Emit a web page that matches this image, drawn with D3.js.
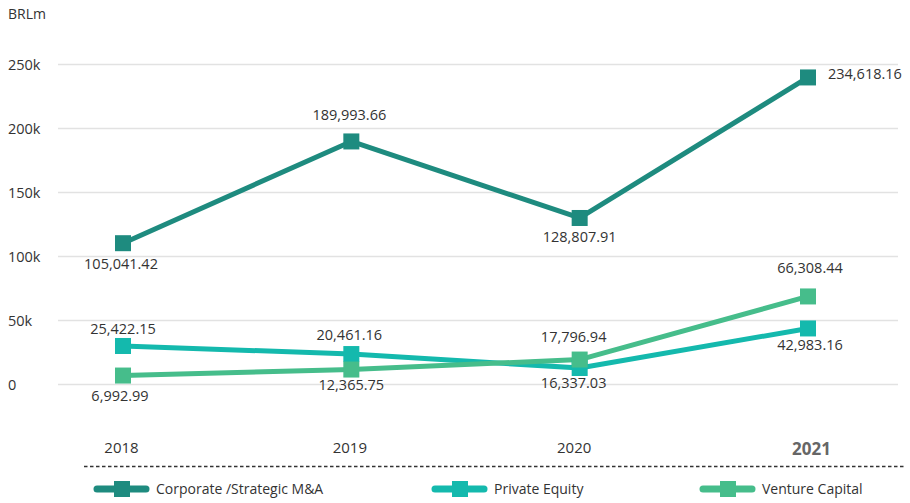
<!DOCTYPE html>
<html>
<head>
<meta charset="utf-8">
<script src="https://cdn.jsdelivr.net/npm/d3@7"></script>
<style>
  html, body { margin: 0; padding: 0; background: #fff; }
  svg { display: block; font-family: "Open Sans", sans-serif; }
</style>
</head>
<body>
<svg id="chart" width="910" height="503"></svg>
<script>
// ---------- data ----------
const years = ["2018", "2019", "2020", "2021"];
const seriesNames = ["Corporate /Strategic M&A", "Private Equity", "Venture Capital"];
const corporateValues = [110000, 189500, 129700, 239500];
const privateEquityValues = [29700, 23400, 12500, 43400];
const ventureCapitalValues = [6600, 11300, 19100, 68400];
const corporateLabels = ["105,041.42", "189,993.66", "128,807.91", "234,618.16"];
const privateEquityLabels = ["25,422.15", "20,461.16", "16,337.03", "42,983.16"];
const ventureCapitalLabels = ["6,992.99", "12,365.75", "17,796.94", "66,308.44"];
const yTicks = [0, 50000, 100000, 150000, 200000, 250000];
const yTickLabels = ["0", "50k", "100k", "150k", "200k", "250k"];
const unitLabel = "BRLm";

// ---------- style / layout ----------
const colors = ["#1e8b7f", "#14b9ad", "#46bd8b"];
// label placement: [dx, baseline dy, anchor]
const labelPlacement = [
  [[-2, 25.5, "middle"], [-2, -21.5, "middle"], [0, 24.5, "middle"], [20, 1.5, "start"]],
  [[0, -11.5, "middle"], [-2, -14, "middle"], [-6, 19.5, "middle"], [2, 21.5, "middle"]],
  [[-3, 25.5, "middle"], [0, 20.5, "middle"], [-6, -17.5, "middle"], [2, -23.5, "middle"]]
];
const legendX = [94, 432, 700];

const series = [
  { name: seriesNames[0], values: corporateValues, labels: corporateLabels },
  { name: seriesNames[1], values: privateEquityValues, labels: privateEquityLabels },
  { name: seriesNames[2], values: ventureCapitalValues, labels: ventureCapitalLabels }
];

const svg = d3.select("#chart");

const x = d3.scalePoint().domain(years).range([123, 808]);
const y = d3.scaleLinear().domain([0, 250000]).range([384, 64]);

// unit label
svg.append("text").attr("x", 8).attr("y", 19)
  .attr("font-size", 14).attr("fill", "#333").text(unitLabel);

// gridlines + y labels
const yAxis = d3.axisLeft(y).tickValues(yTicks)
  .tickSize(-(898 - 58))
  .tickFormat((d, i) => yTickLabels[i]);
const gy = svg.append("g").attr("transform", "translate(58,0)").call(yAxis);
gy.select(".domain").remove();
gy.selectAll(".tick line").attr("stroke", "#e2e2e2").attr("stroke-width", 1.5);
gy.selectAll(".tick text")
  .attr("x", -50).attr("dy", "0.36em")
  .attr("text-anchor", "start")
  .attr("font-size", 14.5).attr("fill", "#333")
  .attr("font-family", "\"Open Sans\", sans-serif");

// x axis labels
const xAxis = d3.axisBottom(x).tickSize(0);
const gx = svg.append("g").attr("transform", "translate(0,438)").call(xAxis);
gx.select(".domain").remove();
gx.selectAll(".tick text")
  .attr("y", 0).attr("dy", "1.0em")
  .attr("dx", (d) => d === "2021" ? 3 : (d === "2020" ? -6 : -2))
  .attr("font-family", "\"Open Sans\", sans-serif")
  .attr("font-size", (d) => d === "2021" ? 17 : 15)
  .attr("font-weight", (d) => d === "2021" ? "bold" : "normal")
  .attr("fill", (d) => d === "2021" ? "#666" : "#333");

// dashed separator
svg.append("line")
  .attr("x1", 84).attr("x2", 906).attr("y1", 466.5).attr("y2", 466.5)
  .attr("stroke", "#333").attr("stroke-width", 1.3)
  .attr("stroke-dasharray", "3.5,2.5");

// lines
const line = d3.line().x((d, i) => x(years[i])).y((d) => y(d));
series.forEach((s, si) => {
  svg.append("path").datum(s.values)
    .attr("fill", "none").attr("stroke", colors[si])
    .attr("stroke-width", 5).attr("stroke-linejoin", "round")
    .attr("d", line);
});
// markers
const ms = 16;
series.forEach((s, si) => {
  svg.append("g").selectAll("rect").data(s.values).join("rect")
    .attr("x", (d, i) => x(years[i]) - ms / 2)
    .attr("y", (d) => y(d) - ms / 2)
    .attr("width", ms).attr("height", ms)
    .attr("fill", colors[si]);
});
// data labels
series.forEach((s, si) => {
  svg.append("g").selectAll("text").data(s.values).join("text")
    .attr("x", (d, i) => x(years[i]) + labelPlacement[si][i][0])
    .attr("y", (d, i) => y(d) + labelPlacement[si][i][1])
    .attr("text-anchor", (d, i) => labelPlacement[si][i][2])
    .attr("font-size", 14.5).attr("fill", "#333")
    .text((d, i) => s.labels[i]);
});

// legend
series.forEach((s, si) => {
  const g = svg.append("g").attr("transform", `translate(${legendX[si]},489)`);
  g.append("line").attr("x1", 3).attr("x2", 52).attr("y1", 0).attr("y2", 0)
    .attr("stroke", colors[si]).attr("stroke-width", 7).attr("stroke-linecap", "round");
  g.append("rect").attr("x", 20).attr("y", -8).attr("width", 16).attr("height", 16)
    .attr("fill", colors[si]);
  g.append("text").attr("x", 62).attr("y", 0).attr("dy", "0.36em")
    .attr("font-size", 14).attr("fill", "#333").text(s.name);
});
</script>
</body>
</html>
